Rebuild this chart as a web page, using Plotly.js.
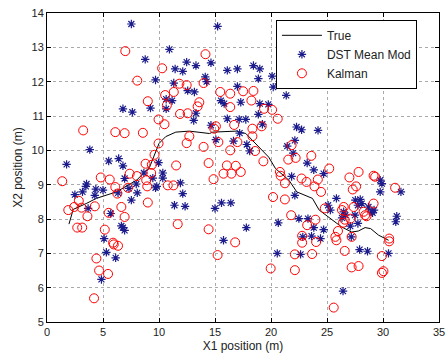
<!DOCTYPE html>
<html><head><meta charset="utf-8">
<script src="https://cdn.plot.ly/plotly-3.0.1.min.js"></script>
<style>html,body{margin:0;padding:0;background:#fff}#c{width:448px;height:357px}</style>
</head><body><div id="c"></div>
<script>
const trueX=[1.96,2.34,3.5,4.4,6.2,8.0,9.16,10.0,10.6,11.5,12.7,14.5,14.8,16.9,17.75,18.6,19.8,20.4,21.6,22.3,23.7,24.3,25.45,26.3,27.2,27.8,28.4,28.9,29.6,30.5];
const trueY=[7.85,8.28,8.45,8.6,8.79,9.13,9.51,10.2,10.4,10.53,10.56,10.49,10.53,10.56,10.49,10.2,9.8,9.47,9.13,8.79,8.6,8.26,7.97,7.77,7.62,7.65,7.75,7.72,7.53,7.38];

const dstX=[7.53,10.93,8.77,11.44,9.69,11.32,10.64,11.17,6.78,7.62,9.24,10.64,
15.23,12.47,13.3,14.64,12.12,16.1,17.0,18.43,19.0,14.13,14.25,18.87,20.1,20.7,20.2,21.36,12.56,13.16,17.0,15.53,15.82,17.3,19.0,19.76,13.3,18.87,16.1,17.16,17.75,
3.82,1.75,5.51,6.4,6.78,9.96,8.65,10.34,9.45,10.34,6.93,7.97,3.53,3.47,3.17,2.49,4.36,5.0,4.27,6.34,7.32,8.06,9.69,9.8,7.53,11.38,3.67,5.69,
6.64,6.78,6.93,5.1,5.3,6.13,4.86,
13.1,14.64,19.23,17.2,15.08,16.65,17.84,18.1,22.28,22.73,22.13,21.45,21.98,23.23,21.84,11.91,12.12,12.33,15.58,16.41,15.0,22.13,22.49,
17.8,15.76,20.65,22.84,20.56,22.64,
24.2,23.82,24.7,29.75,29.9,29.75,31.6,25.84,25.1,25.3,27.53,27.97,28.1,27.76,28.7,29.0,29.2,27.5,26.64,26.34,31.23,23.3,
23.82,24.7,23.62,24.42,26.49,27.08,27.76,27.17,29.07,27.91,28.62,30.49,31.14,26.43];
const dstY=[13.68,12.94,12.65,12.37,12.05,11.96,11.49,11.45,11.21,11.11,11.23,11.21,
13.61,12.57,12.47,12.55,12.3,12.33,12.37,12.47,12.37,12.14,12.0,12.09,12.16,11.94,11.84,11.6,11.74,11.7,11.86,11.45,11.36,11.4,11.36,11.34,11.08,11.05,10.92,10.9,10.9,
10.02,9.59,9.69,9.76,9.55,9.64,9.34,9.34,9.19,9.19,9.18,9.02,9.02,8.95,8.79,8.71,8.87,8.84,8.69,8.76,8.89,8.76,8.91,8.95,8.55,8.4,8.31,8.16,
7.8,7.75,7.67,7.43,7.03,6.87,6.24,
10.87,10.73,10.76,10.5,10.31,10.27,10.17,9.98,10.68,10.6,10.29,10.12,9.92,9.63,9.24,9.05,8.74,8.37,8.47,8.47,8.31,8.69,8.01,
7.75,7.38,7.89,7.48,7.0,6.97,
10.58,9.43,9.32,9.13,9.03,8.79,8.79,8.6,8.4,8.26,8.55,8.57,8.45,8.4,8.35,8.21,8.26,8.11,8.11,8.03,8.08,8.01,
7.75,7.69,7.5,7.43,8.21,7.79,7.87,7.48,8.18,7.11,7.06,7.0,7.92,5.9];

const kalX=[6.99,10.28,8.06,10.55,9.0,10.7,
14.15,11.82,12.47,13.98,11.32,15.47,16.36,17.51,18.43,18.25,13.6,13.45,16.36,11.88,12.56,19.38,20.1,20.6,
3.23,6.1,6.93,8.56,9.96,10.49,9.96,9.6,8.8,9.36,11.53,9.3,7.38,8.03,4.8,5.6,6.1,7.23,8.86,8.95,10.78,11.29,1.36,6.28,2.84,2.43,1.9,3.08,4.27,3.61,5.51,6.64,9.0,6.93,
2.7,3.14,5.16,5.9,5.96,6.34,4.41,4.65,5.45,4.2,11.67,
16.71,15.08,14.93,18.34,19.17,12.71,12.47,18.34,15.3,17.0,13.98,16.36,18.58,21.84,21.54,22.2,14.43,19.32,16.06,16.86,15.76,16.47,17.3,20.8,20.86,22.73,23.17,21.24,14.87,20.18,21.24,21.8,
14.43,16.8,15.23,19.97,22.13,22.13,22.78,22.78,23.23,
23.6,24.18,23.88,24.47,25.2,27.82,27.0,29.16,29.3,27.6,27.3,31.08,24.8,26.49,26.34,27.38,29.16,28.27,28.53,27.08,23.97,
24.03,25.75,25.84,25.98,26.43,26.58,27.2,28.4,30.55,30.55,26.58,23.67,29.9,27.2,27.82,30.04,29.9,25.6];
const kalY=[12.89,12.39,12.03,11.61,11.43,11.31,
12.8,11.94,11.9,11.96,11.7,11.7,11.65,11.72,11.73,11.45,11.4,11.28,11.26,11.06,11.08,11.21,11.18,10.92,
10.58,10.53,10.5,10.51,10.9,10.76,10.2,9.87,9.61,9.58,9.56,9.34,9.32,9.25,9.21,9.15,8.93,8.91,9.13,8.95,8.98,8.98,9.1,8.74,8.53,8.35,8.26,8.33,8.37,8.08,8.18,8.35,8.48,8.06,
7.75,7.75,7.69,7.31,7.26,7.22,6.85,6.5,6.4,5.69,7.85,
10.74,10.7,10.63,10.63,10.7,10.41,10.21,10.41,10.24,10.24,10.1,10.0,9.98,10.15,9.73,9.78,9.63,9.68,9.56,9.55,9.32,9.32,9.37,9.37,9.26,9.18,9.08,9.04,9.16,8.64,8.57,8.11,
7.7,7.32,6.95,6.56,6.51,6.97,7.31,7.51,7.82,
9.84,9.15,8.95,8.79,9.47,9.37,9.21,9.26,9.23,8.95,8.86,8.91,8.31,8.35,8.26,8.35,8.45,8.21,8.08,8.01,7.98,
7.33,7.48,7.38,7.65,7.89,7.98,7.48,8.11,7.43,7.35,7.07,6.98,6.92,6.59,6.63,6.48,6.43,5.42];

const xTicks=[0,5,10,15,20,25,30,35];
const yTicks=[5,6,7,8,9,10,11,12,13,14];

const traces=[
 {x:trueX,y:trueY,type:'scatter',mode:'lines',name:'True',line:{color:'#000',width:1}},
 {x:dstX,y:dstY,type:'scatter',mode:'markers',name:'DST Mean Mod',marker:{symbol:'asterisk-open',size:7,color:'#1c1c8c',line:{color:'#1c1c8c',width:1.2}}},
 {x:kalX,y:kalY,type:'scatter',mode:'markers',name:'Kalman',marker:{symbol:'circle-open',size:9,color:'#ff0000',line:{color:'#ff0000',width:1}}}
];
const ax={showline:true,linecolor:'#000',linewidth:1,mirror:'ticks',ticks:'inside',ticklen:4,tickcolor:'#000',
 showgrid:true,gridcolor:'#aaaaaa',griddash:'dot',gridwidth:1,zeroline:false,tickfont:{size:11,color:'#222'}};
const layout={width:448,height:357,margin:{l:47,r:9,t:13,b:35},
 font:{family:'Liberation Sans, Arial, sans-serif',color:'#222'},
 paper_bgcolor:'#fff',plot_bgcolor:'#fff',showlegend:true,
 xaxis:Object.assign({},ax,{range:[0,35],tickvals:xTicks,title:{text:'X1 position (m)',font:{size:12},standoff:4}}),
 yaxis:Object.assign({},ax,{range:[5,14],tickvals:yTicks,title:{text:'X2 position (m)',font:{size:12},standoff:6}}),
 legend:{x:0.584,y:0.978,xanchor:'left',yanchor:'top',bgcolor:'#fff',bordercolor:'#000',borderwidth:1,font:{size:12,color:'#222'},tracegroupgap:0,itemwidth:40}
};
Plotly.newPlot('c',traces,layout,{displayModeBar:false,staticPlot:true});
</script></body></html>
